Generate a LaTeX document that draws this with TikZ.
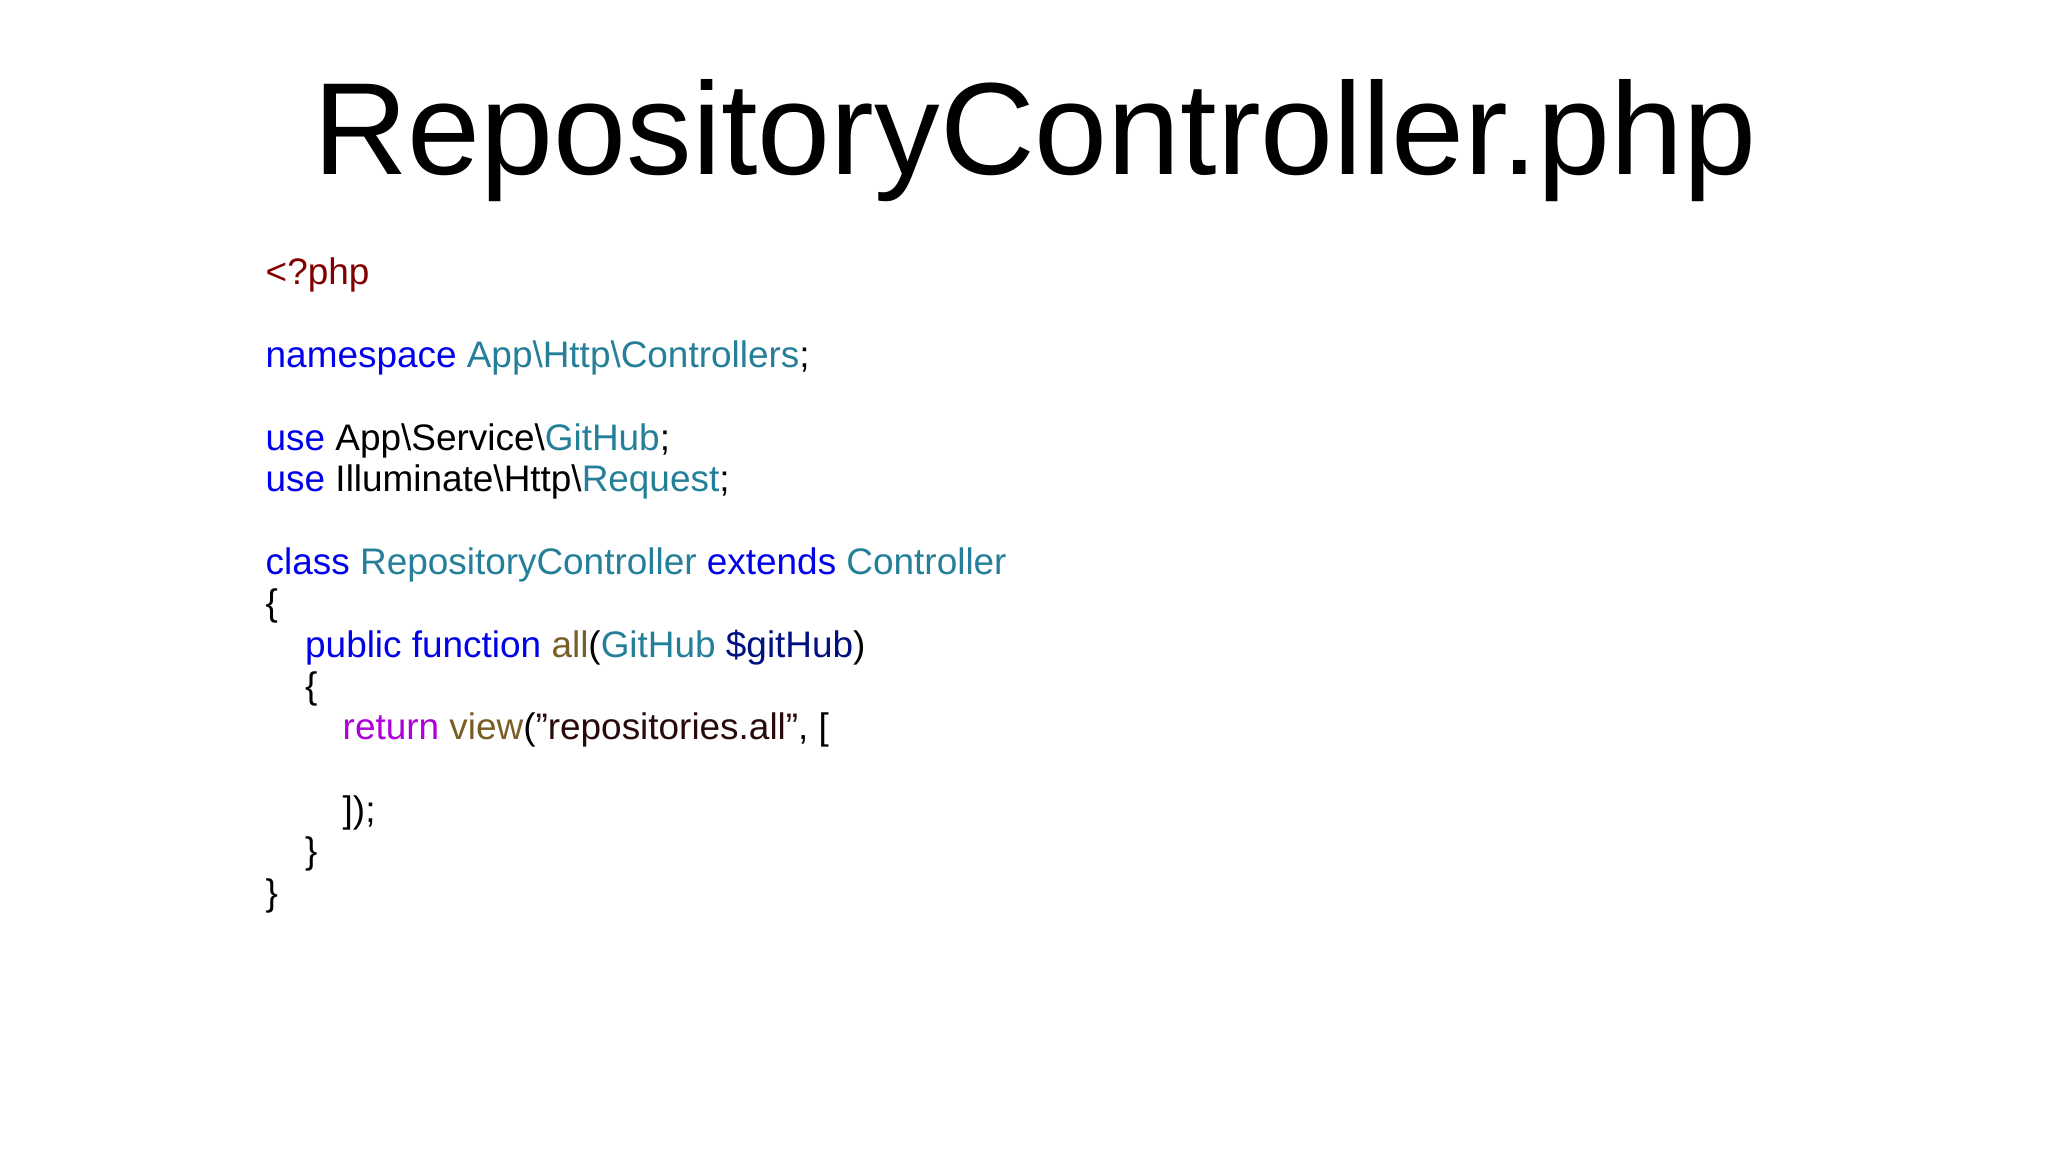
\documentclass[tikz,border=0pt]{standalone}
\usepackage{fontspec}
\setmainfont{Liberation Sans}
\definecolor{kw}{RGB}{0,0,235}
\definecolor{ty}{RGB}{38,127,153}
\definecolor{php}{RGB}{128,0,0}
\definecolor{fn}{RGB}{121,94,38}
\definecolor{ret}{RGB}{175,0,219}
\definecolor{var}{RGB}{0,16,128}
\definecolor{str}{RGB}{40,10,10}
\newcommand{\bs}{\textbackslash}
\begin{document}
\begin{tikzpicture}[x=0.01cm,y=0.01cm,
  codeline/.style={anchor=base west,inner sep=0pt,font=\fontsize{10.5pt}{12pt}\selectfont}]
\useasboundingbox (0,0) rectangle (2048,1152);
\node[anchor=base,inner sep=0pt,font=\fontsize{37.3pt}{42pt}\selectfont] (title) at (1035,977) {RepositoryController.php};
\def\L#1{\fpeval{867-#1*41.35}}
\node[codeline] (l0) at (265,{\L{0}}) {\textcolor{php}{<?php}};
\node[codeline] (l2) at (265,{\L{2}}) {\textcolor{kw}{namespace} \textcolor{ty}{App\bs Http\bs Controllers};};
\node[codeline] (l4) at (265,{\L{4}}) {\textcolor{kw}{use} App\bs Service\bs\textcolor{ty}{GitHub};};
\node[codeline] (l5) at (265,{\L{5}}) {\textcolor{kw}{use} Illuminate\bs Http\bs\textcolor{ty}{Request};};
\node[codeline] (l7) at (265,{\L{7}}) {\textcolor{kw}{class} \textcolor{ty}{RepositoryController} \textcolor{kw}{extends} \textcolor{ty}{Controller}};
\node[codeline] (l8) at (265,{\L{8}}) {\{};
\node[codeline] (l9) at (304.5,{\L{9}}) {\textcolor{kw}{public function} \textcolor{fn}{all}(\textcolor{ty}{GitHub} \textcolor{var}{\$gitHub})};
\node[codeline] (l10) at (304.5,{\L{10}}) {\{};
\node[codeline] (l11) at (342,{\L{11}}) {\textcolor{ret}{return} \textcolor{fn}{view}(\textcolor{str}{"repositories.all"}, [};
\node[codeline] (l13) at (342,{\L{13}}) {]);};
\node[codeline] (l14) at (304.5,{\L{14}}) {\}};
\node[codeline] (l15) at (265,{\L{15}}) {\}};
\end{tikzpicture}
\end{document}
